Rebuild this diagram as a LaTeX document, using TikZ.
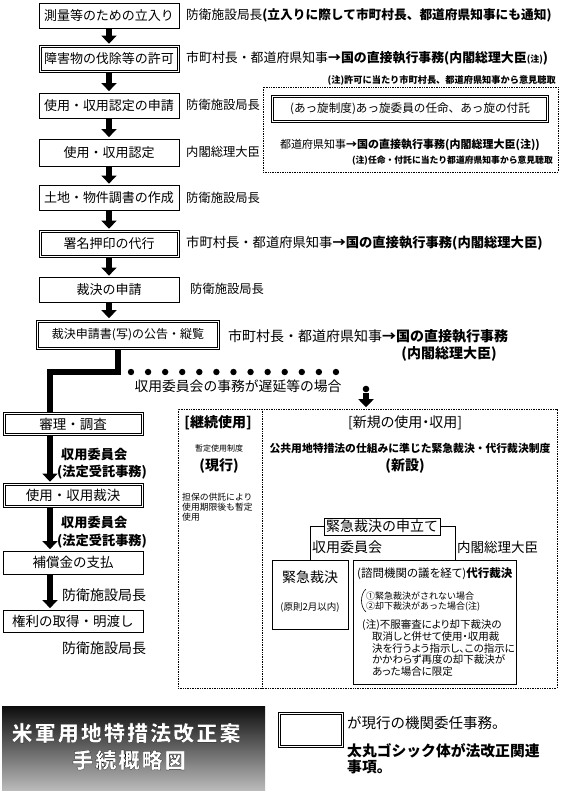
\documentclass[tikz,border=0pt]{standalone}
\usepackage{fontspec}
\setmainfont{Noto Sans CJK JP}
\newfontfamily\pfont{Noto Sans CJK JP}[RawFeature=+palt]
\usetikzlibrary{arrows.meta}
\newcommand\setfs[1]{\fontsize{#1}{#1}\selectfont}
\tikzset{
  box/.style={draw, line width=0.8pt, minimum width=140pt, minimum height=25pt, inner sep=0pt, font={\setfs{13}}},
  dbox/.style={box, line width=0.7pt, append after command={\pgfextra{\draw[line width=0.7pt] ([shift={(2.4pt,2.4pt)}]\tikzlastnode.south west) rectangle ([shift={(-2.4pt,-2.4pt)}]\tikzlastnode.north east);}}},
  lab/.style={anchor=west, inner sep=0pt, font={\setfs{12.3}}},
  note/.style={anchor=east, inner sep=0pt, font={\setfs{9.2}\bfseries}},
  flow/.style={line width=6pt, -{Triangle[width=15pt,length=8pt]}, shorten >=1.5pt},
  thickline/.style={line width=6pt},
  dotbox/.style={draw, line width=0.6pt, dash pattern=on 0.8pt off 0.9pt, inner sep=0pt},
  dotline/.style={line width=0.6pt, dash pattern=on 0.8pt off 0.9pt},
  thin/.style={draw, line width=0.8pt, inner sep=0pt},
  plain/.style={inner sep=0pt},
  ttl/.style={plain, text=white, font={\setfs{21}\bfseries\addfontfeature{LetterSpace=10,FakeBold=0.8}}}
}
\begin{document}
\begin{tikzpicture}[x=1pt,y=-1pt]
\useasboundingbox (0,0) rectangle (561,793);
\fill[white] (0,0) rectangle (561,793);

% main column
\node[box]  (b1) at (109,15.5) {測量等のための立入り};
\node[dbox, minimum height=27pt] (b2) at (109,59) {障害物の伐除等の許可};
\node[box]  (b3) at (109,105.5) {使用・収用認定の申請};
\node[box, minimum height=27pt] (b4) at (109,152.5) {使用・収用認定};
\node[box]  (b5) at (109,198) {土地・物件調書の作成};
\node[dbox, minimum height=27pt] (b6) at (109,244) {署名押印の代行};
\node[box]  (b7) at (109,290) {裁決の申請};
\node[dbox, minimum width=183pt, minimum height=29pt, font={\setfs{12}}] (b8) at (128,334.5) {裁決申請書(写)の公告・縦覧};

\foreach \a/\b in {b1/b2,b2/b3,b3/b4,b4/b5,b5/b6,b6/b7}
  \draw[flow] (\a.south) -- (\b.north);
\draw[flow] (b7.south) -- (b8.north -| b7.south);

% labels of main column
\node[lab, font={\setfs{12.7}}] (t1) at (186,15) {防衛施設局長\textbf{(立入りに際して市町村長、都道府県知事にも通知)}};
\node[lab, font={\setfs{12.9}}] (t2) at (186,58) {市町村長・都道府県知事\textbf{→国の直接執行事務(内閣総理大臣{\setfs{9}(注)})}};
\node[note] (t2n) at (556,80) {(注)許可に当たり市町村長、都道府県知事から意見聴取};
\node[lab] (t3) at (186,105) {防衛施設局長};
\node[lab] (t5) at (186,152) {内閣総理大臣};
\node[lab] (t6) at (186,198) {防衛施設局長};
\node[lab, font={\setfs{13.3}}] (t7) at (186,243) {市町村長・都道府県知事\textbf{→国の直接執行事務(内閣総理大臣)}};
\node[lab] (t8) at (190,289) {防衛施設局長};
\node[lab, font={\setfs{14}}] (t9) at (228,336) {市町村長・都道府県知事\textbf{→国の直接執行事務}};
\node[plain, font={\pfont\setfs{14}\bfseries}] (t9b) at (449,354) {(内閣総理大臣)};

% mediation box
\node[dotbox, minimum width=295pt, minimum height=85pt] (med) at (410.5,129.5) {};
\node[dbox, minimum width=277pt, minimum height=27pt, font={\setfs{11.6}}] (med1) at (410,109) {(あっ旋制度)あっ旋委員の任命、あっ旋の付託};
\node[plain, font={\setfs{11}}] (med2) at (410,145) {都道府県知事\textbf{→国の直接執行事務(内閣総理大臣(注))}};
\node[note, font={\setfs{8.8}\bfseries}] (med3) at (553,161) {(注)任命・付託に当たり都道府県知事から意見聴取};

% branch
\coordinate (e1) at (118,372);
\coordinate (e2) at (50,372);
\node[dbox, minimum height=23pt, font={\setfs{13.5}}] (L1) at (73,424) {審理・調査};
\node[dbox, minimum height=24pt, font={\setfs{13.5}}] (L2) at (73,495.5) {使用・収用裁決};
\node[box, minimum height=23pt, font={\setfs{13.5}}] (L3) at (73,562.5) {補償金の支払};
\node[box, minimum height=22pt, font={\setfs{13.5}}] (L4) at (73,621) {権利の取得・明渡し};
\draw[thickline] (e1 |- b8.south) -- (e1) -- (e2) -- (e2 |- L1.north);
\draw[flow] (e2 |- L1.south) -- (e2 |- L2.north);
\draw[flow] (e2 |- L2.south) -- (e2 |- L3.north);
\draw[flow] (e2 |- L3.south) -- (e2 |- L4.north);

\node[lab, font={\setfs{13.2}\bfseries}] (l1a) at (61,455) {収用委員会};
\node[lab, font={\setfs{13.2}\bfseries}] (l1b) at (57,472) {(法定受託事務)};
\node[lab, font={\setfs{13.2}\bfseries}] (l2a) at (61,523) {収用委員会};
\node[lab, font={\setfs{13.2}\bfseries}] (l2b) at (57,541) {(法定受託事務)};
\node[lab, font={\setfs{14}}] (l3) at (62,595) {防衛施設局長};
\node[lab, font={\setfs{14}}] (l4) at (62,648) {防衛施設局長};

% dotted connection
\coordinate (d0) at (131,372);
\coordinate (d1) at (353,372);
\coordinate (dl) at (366,389);
\draw[line width=6.4pt, line cap=round, dash pattern=on 0pt off 17.08pt] (d0) -- (d1);
\fill (dl) circle (3.3pt);
\node[plain, font={\setfs{13.8}}] (t10) at (238,386) {収用委員会の事務が遅延等の場合};

% new system box
\node[dotbox, minimum width=379pt, minimum height=279pt] (nb) at (367.5,548.5) {};
\draw[flow] ([yshift=-4pt]dl) -- (dl |- nb.north);
\coordinate (dv1) at (262,409);
\coordinate (dv2) at (262,688);
\draw[dotline] (dv1) -- (dv2);

\node[plain, font={\pfont\setfs{14}\bfseries}] (k1) at (218,423) {[継続使用]};
\node[plain, font={\setfs{8}}] (k2) at (219,448) {暫定使用制度};
\node[plain, font={\setfs{14}\bfseries}] (k3) at (219,466) {(現行)};
\node[plain, anchor=west, font={\setfs{8.8}}, align=left] (k4) at (182,507) {担保の供託により\\[1.2pt]使用期限後も暫定\\[1.2pt]使用};

\node[plain, font={\pfont\setfs{14}}] (n1) at (405,423) {[新規の使用・収用]};
\node[plain, font={\setfs{10.8}\bfseries}] (n2) at (410,448) {公共用地特措法の仕組みに準じた緊急裁決・代行裁決制度};
\node[plain, font={\setfs{14}\bfseries}] (n3) at (405,466) {(新設)};

\node[thin, minimum width=116pt, minimum height=17pt, font={\setfs{14}}] (mo) at (382,526.5) {緊急裁決の申立て};
\node[thin, minimum width=76pt, minimum height=69pt] (kk) at (310,594.5) {};
\node[thin, minimum width=163pt, minimum height=124pt] (dk) at (434.5,622) {};
\draw[line width=0.8pt] (mo.west) -| (kk.north);
\draw[line width=0.8pt] (mo.east) -| ([xshift=20.5pt]dk.north);
\node[plain, anchor=west, font={\setfs{14}}] (m1) at (312,547) {収用委員会};
\node[plain, anchor=west, font={\setfs{13.5}}] (m2) at (457,547) {内閣総理大臣};

\node[plain, font={\setfs{14}}] (kk1) at (310,577) {緊急裁決};
\node[plain, font={\setfs{9.5}}] (kk2) at (310,607) {(原則2月以内)};

\node[plain, anchor=west, font={\pfont\setfs{11.5}}] (dk1) at (357,574) {(諮問機関の議を経て)\textbf{代行裁決}};
\draw[line width=0.6pt] (366,589) .. controls (360,594) and (360,607) .. (366,612);
\node[plain, anchor=west, font={\setfs{9}}] (dk2) at (366,596) {①緊急裁決がされない場合};
\node[plain, anchor=west, font={\setfs{9}}] (dk3) at (366,607) {②却下裁決があった場合(注)};
\node[plain, anchor=west, font={\pfont\setfs{10.5}}] (dk4) at (362,625) {(注)不服審査により却下裁決の};
\node[plain, anchor=west, font={\pfont\setfs{10.5}}, align=left] (dk5) at (372,654) {取消しと併せて使用・収用裁\\[1.2pt]決を行うよう指示し、この指示に\\[1.2pt]かかわらず再度の却下裁決が\\[1.2pt]あった場合に限定};

% title
\node[minimum width=263pt, minimum height=84pt, inner sep=0pt, top color=black!95, middle color=black!55, bottom color=black!27] (tt) at (133.5,748) {};
\node[ttl] (tt1) at (126,733) {\special{pdf:literal direct 0 G}米軍用地特措法改正案};
\node[ttl] (tt2) at (129,760) {\special{pdf:literal direct 0 G}手続概略図};

% legend
\node[dbox, minimum width=65pt, minimum height=35pt] (lg) at (310.5,729.5) {};
\node[lab, font={\setfs{14.5}}] (lg1) at (347,723) {が現行の機関委任事務。};
\node[lab, font={\setfs{14.8}\bfseries}, align=left] (lg2) at (347,759) {太丸ゴシック体が法改正関連\\[1pt]事項。};
\end{tikzpicture}
\end{document}
